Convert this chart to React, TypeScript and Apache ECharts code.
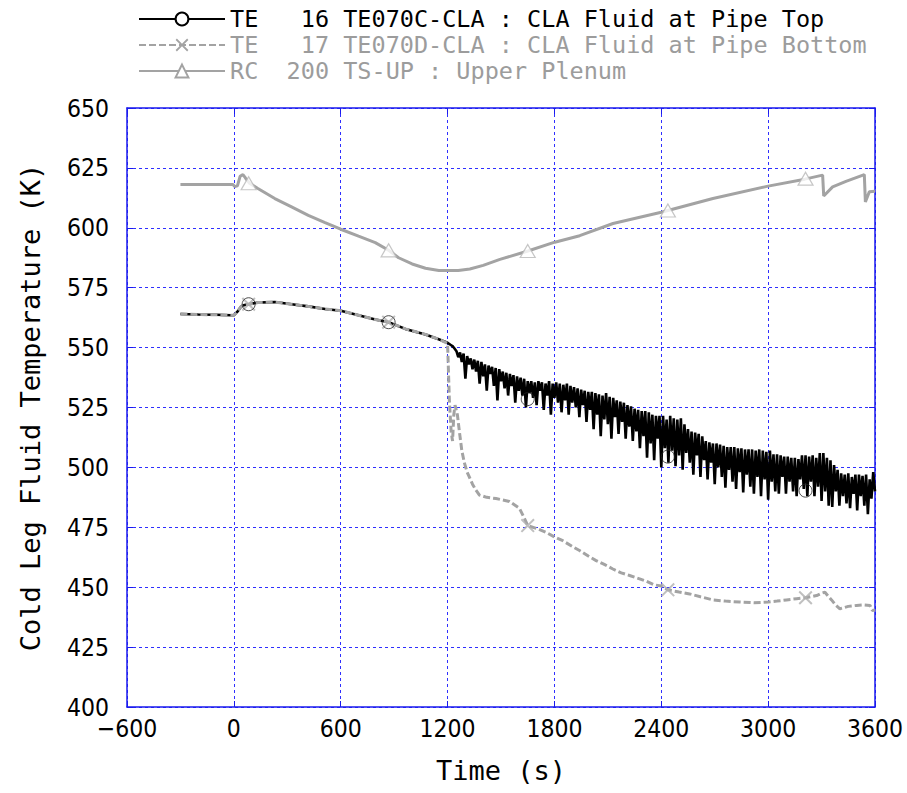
import React, { useEffect, useRef } from "react";
import * as echarts from "echarts";

// ---------- names / axes ----------
const SERIES_NAMES = [
  "TE   16 TE070C-CLA : CLA Fluid at Pipe Top",
  "TE   17 TE070D-CLA : CLA Fluid at Pipe Bottom",
  "RC  200 TS-UP : Upper Plenum",
];
const X_NAME = "Time (s)";
const Y_NAME = "Cold Leg Fluid Temperature (K)";
const X_MIN = -600;
const X_MAX = 3600;
const X_STEP = 600;
const Y_MIN = 400;
const Y_MAX = 650;
const Y_STEP = 25;

// ---------- TE 16 (pipe top) ----------
const TE16_T = [-300, -200, -100, -15, 0, 20, 41, 60, 83, 135, 230, 324, 418, 512, 600, 700, 794, 869, 963, 1076, 1150];
const TE16_V = [564.0, 563.8, 563.7, 563.5, 563.5, 565.0, 567.2, 567.8, 568.1, 568.8, 569.0, 568.1, 567.2, 566.1, 565.4, 563.5, 561.7, 560.6, 557.8, 555.5, 553.5];
// oscillating part, sampled every 10 s from 1200 s
const TE16_NOISE_T0 = 1200;
const TE16_NOISE_DT = 10;
const TE16_NOISE_V = [
  552, 551.5, 551, 550.5, 549.5,
  548.5, 546, 548, 544, 547.5,
  537, 546.5, 543, 545.5, 541,
  545, 540, 544.5, 535, 544,
  538, 543, 532, 542.5, 539,
  542, 534, 541.5, 528, 541,
  536, 540, 533, 539.5, 530,
  539, 534, 538.5, 527, 538,
  532, 537.5, 530, 537, 525,
  536, 531, 536, 529, 535.5,
  526, 536, 532, 535.5, 524,
  535, 530, 536, 522, 535,
  529, 535.5, 527, 535, 523,
  534.5, 528, 535, 522, 534,
  527, 533.5, 525, 533, 521,
  532.5, 526, 532, 519, 531.5,
  524, 531.5, 516, 531, 522,
  530.5, 513, 530, 520, 531,
  518, 529.5, 512, 529, 521,
  528, 514, 527.5, 519, 527,
  512, 526, 517, 525.5, 511,
  524.5, 515, 524, 508, 523.5,
  513, 523.5, 504, 523, 510,
  522, 503, 521.5, 512, 521.5,
  500, 521.5, 508, 520, 502,
  521.5, 507, 520.5, 500.5, 520,
  505, 520.5, 499, 518, 506,
  516, 502, 515, 497, 514.5,
  505, 514, 496, 513, 503,
  511, 495, 510.5, 502, 510,
  493, 510, 500, 509.5, 496,
  509, 491.5, 508.5, 499, 508.5,
  494, 508.5, 491, 508, 498,
  508, 489.5, 507.5, 497, 507.5,
  492, 507.5, 489, 507, 496,
  507.5, 488, 507, 495, 506.5,
  486.5, 507, 494, 505.5, 490,
  505.5, 489, 505, 496, 504.5,
  489, 504.5, 494, 504, 490,
  504, 488, 503.5, 495, 505,
  491, 505, 488, 504.5, 494,
  505, 488, 504, 492, 506,
  486, 506, 490, 504, 484,
  503, 483.5, 501, 490, 499,
  484, 497.5, 488, 497, 485,
  497.5, 483, 496, 489, 497,
  482, 497, 488, 496.5, 484,
  497, 480.5, 495, 487, 498,
  490,
];

// ---------- TE 17 (pipe bottom) ----------
const TE17_T = [-300, -200, -100, -15, 0, 20, 41, 60, 83, 135, 230, 324, 418, 512, 600, 700, 794, 869, 963, 1076, 1150, 1200,
  1205, 1210, 1220, 1228, 1235, 1242, 1255, 1268, 1280, 1294, 1310, 1322, 1340, 1359, 1378, 1420, 1472, 1547, 1603, 1630, 1650,
  1700, 1753, 1800, 1847, 1900, 1941, 1990, 2034, 2080, 2128, 2175, 2222, 2278, 2316, 2360, 2400, 2437, 2500, 2559, 2620, 2691,
  2760, 2841, 2920, 3000, 3050, 3103, 3160, 3210, 3272, 3300, 3319, 3340, 3356, 3380, 3403, 3450, 3497, 3540, 3572, 3585, 3600];
const TE17_V = [564.0, 563.8, 563.7, 563.5, 563.5, 565.0, 567.2, 567.8, 568.1, 568.8, 569.0, 568.1, 567.2, 566.1, 565.4, 563.5, 561.7, 560.6, 557.8, 555.5, 553.5, 551.8,
  540, 528, 515, 511, 522, 526, 522, 514, 507, 502, 498, 496, 493, 490.5, 488.5, 487.5, 487, 485.8, 483, 479, 475.7,
  474.5, 472.9, 471, 469.4, 467, 465.3, 463, 461.1, 459.5, 457.6, 456, 454.9, 453.5, 452.5, 451, 450.5, 448.9, 448, 447.2, 446, 444.7,
  444.2, 443.8, 443.5, 443.8, 444.2, 444.7, 445.2, 445.6, 446.5, 447.5, 447.9, 446, 444.7, 442.5, 441, 442, 442.4, 442.6, 442.4, 440.3, 440.5];

// ---------- RC 200 (upper plenum) ----------
const RC_T = [-300, -100, -5, 5, 20, 35, 51, 65, 88, 135, 230, 324, 418, 512, 600, 700, 794, 869, 925, 1001, 1076, 1151, 1200, 1260,
  1325, 1400, 1494, 1651, 1802, 1942, 2129, 2400, 2690, 3000, 3206, 3306, 3312, 3362, 3437, 3540, 3546, 3568, 3600];
const RC_V = [618.1, 618.1, 618.1, 617.2, 617.5, 621.5, 622.2, 620.8, 618.6, 616.4, 612.2, 608.7, 605.2, 602.2, 599.4, 596.5, 593.8, 590.6, 587.5, 584.9, 583.1, 582.2, 582.2, 582.2,
  582.8, 584.3, 586.8, 590.3, 594.0, 596.7, 601.8, 606.5, 612.2, 617.4, 620.3, 622.0, 613.3, 617.1, 619.4, 622.2, 610.8, 615.0, 615.3];

// ---------- markers ----------
const MARK_T = [83, 869, 1650, 2437, 3210];
const TE16_MARK_V = [568.1, 560.6, 528.5, 504.5, 490.3];
const TE17_MARK_V = [568.1, 560.6, 475.7, 448.9, 445.6];
const RC_MARK_V = [618.6, 590.6, 590.3, 607.2, 620.5];

const X_SYMBOL =
  "path://M0,1L1,0L5,4L9,0L10,1L6,5L10,9L9,10L5,6L1,10L0,9L4,5Z";

const MONO = "'DejaVu Sans Mono', 'Liberation Mono', monospace";
const NARROW = "'Liberation Sans Narrow', 'DejaVu Sans Condensed', 'DejaVu Sans Mono', sans-serif";

const BLUE = "#1a1aee";
const GRID_BLUE = "#2f2fff";
const GRAY = "#a3a3a3";

function zip(t: number[], v: number[]) {
  return t.map((x, i) => [x, v[i]]);
}

export default function App() {
  const ref = useRef<HTMLDivElement>(null);
  useEffect(() => {
    if (!ref.current) return;
    const chart = echarts.init(ref.current, null, { renderer: "svg" });

    const te16 = zip(TE16_T, TE16_V).concat(
      TE16_NOISE_V.map((v, i) => [TE16_NOISE_T0 + i * TE16_NOISE_DT, v])
    );
    const te17 = zip(TE17_T, TE17_V);
    const rc = zip(RC_T, RC_V);

    const baseX = {
      type: "value" as const,
      min: X_MIN,
      max: X_MAX,
      interval: X_STEP,
    };
    const baseY = {
      type: "value" as const,
      min: Y_MIN,
      max: Y_MAX,
      interval: Y_STEP,
    };
    const frameLine = { show: true, onZero: false, lineStyle: { color: BLUE, width: 1.5 } };
    const innerTick = { show: true, inside: true, length: 6, lineStyle: { color: BLUE } };

    chart.setOption({
      animation: false,
      backgroundColor: "#fff",
      grid: { left: 127, right: 32, top: 108, bottom: 86, containLabel: false },
      legend: {
        orient: "vertical",
        left: 133,
        top: 1,
        itemWidth: 86,
        itemHeight: 16,
        itemGap: 0,
        selectedMode: false,
        textStyle: { fontFamily: MONO, fontSize: 23.5, lineHeight: 26 },
        data: [
          { name: SERIES_NAMES[0], textStyle: { color: "#000" } },
          { name: SERIES_NAMES[1], textStyle: { color: "#9c9c9c" } },
          { name: SERIES_NAMES[2], textStyle: { color: "#9c9c9c" } },
        ],
      },
      xAxis: [
        {
          ...baseX,
          position: "bottom",
          name: X_NAME,
          nameLocation: "middle",
          nameGap: 50,
          nameTextStyle: { fontFamily: MONO, fontSize: 27, color: "#000" },
          axisLine: frameLine,
          axisTick: innerTick,
          axisLabel: {
            margin: 9,
            fontFamily: NARROW,
            fontSize: 24.5,
            color: "#000",
            formatter: (v: number) => String(v).replace("-", "\u2212"),
          },
          splitLine: { show: true, lineStyle: { color: GRID_BLUE, type: [3, 3], width: 1 } },
        },
        {
          ...baseX,
          position: "top",
          axisLine: frameLine,
          axisTick: innerTick,
          axisLabel: { show: false },
          splitLine: { show: false },
        },
      ],
      yAxis: [
        {
          ...baseY,
          position: "left",
          name: Y_NAME,
          nameLocation: "middle",
          nameGap: 83,
          nameTextStyle: { fontFamily: MONO, fontSize: 27, color: "#000" },
          axisLine: frameLine,
          axisTick: innerTick,
          axisLabel: { margin: 18, fontFamily: NARROW, fontSize: 24.5, color: "#000" },
          splitLine: { show: true, lineStyle: { color: GRID_BLUE, type: [3, 3], width: 1 } },
        },
        {
          ...baseY,
          position: "right",
          axisLine: frameLine,
          axisTick: innerTick,
          axisLabel: { show: false },
          splitLine: { show: false },
        },
      ],
      series: [
        {
          name: SERIES_NAMES[0],
          type: "line",
          data: te16,
          symbol: "emptyCircle",
          showSymbol: false,
          color: "#000",
          lineStyle: { color: "#000", width: 2.6 },
          emphasis: { disabled: true },
          silent: true,
          z: 2,
        },
        {
          name: SERIES_NAMES[1],
          type: "line",
          data: te17,
          symbol: X_SYMBOL,
          showSymbol: false,
          color: GRAY,
          lineStyle: { color: GRAY, width: 3, type: [7, 3] },
          emphasis: { disabled: true },
          silent: true,
          z: 3,
        },
        {
          name: SERIES_NAMES[2],
          type: "line",
          data: rc,
          symbol: "emptyTriangle",
          showSymbol: false,
          color: GRAY,
          lineStyle: { color: GRAY, width: 3 },
          emphasis: { disabled: true },
          silent: true,
          z: 4,
        },
        {
          type: "scatter",
          data: zip(MARK_T, TE16_MARK_V),
          symbol: "circle",
          symbolSize: 13,
          itemStyle: { color: "rgba(0,0,0,0)", borderColor: "#222", borderWidth: 1 },
          silent: true,
          z: 6,
        },
        {
          type: "scatter",
          data: zip(MARK_T, TE17_MARK_V),
          symbol: X_SYMBOL,
          symbolSize: 14,
          itemStyle: { color: "#b0b0b0" },
          silent: true,
          z: 5,
        },
        {
          type: "scatter",
          data: zip(MARK_T, RC_MARK_V),
          symbol: "triangle",
          symbolSize: [15, 13],
          itemStyle: { color: "#fff", borderColor: "#b8b8b8", borderWidth: 1.2 },
          silent: true,
          z: 6,
        },
      ],
    });
    return () => chart.dispose();
  }, []);
  return (
    <div
      ref={ref}
      style={{ position: "fixed", left: 0, top: 0, width: 907, height: 793, background: "#fff" }}
    />
  );
}
